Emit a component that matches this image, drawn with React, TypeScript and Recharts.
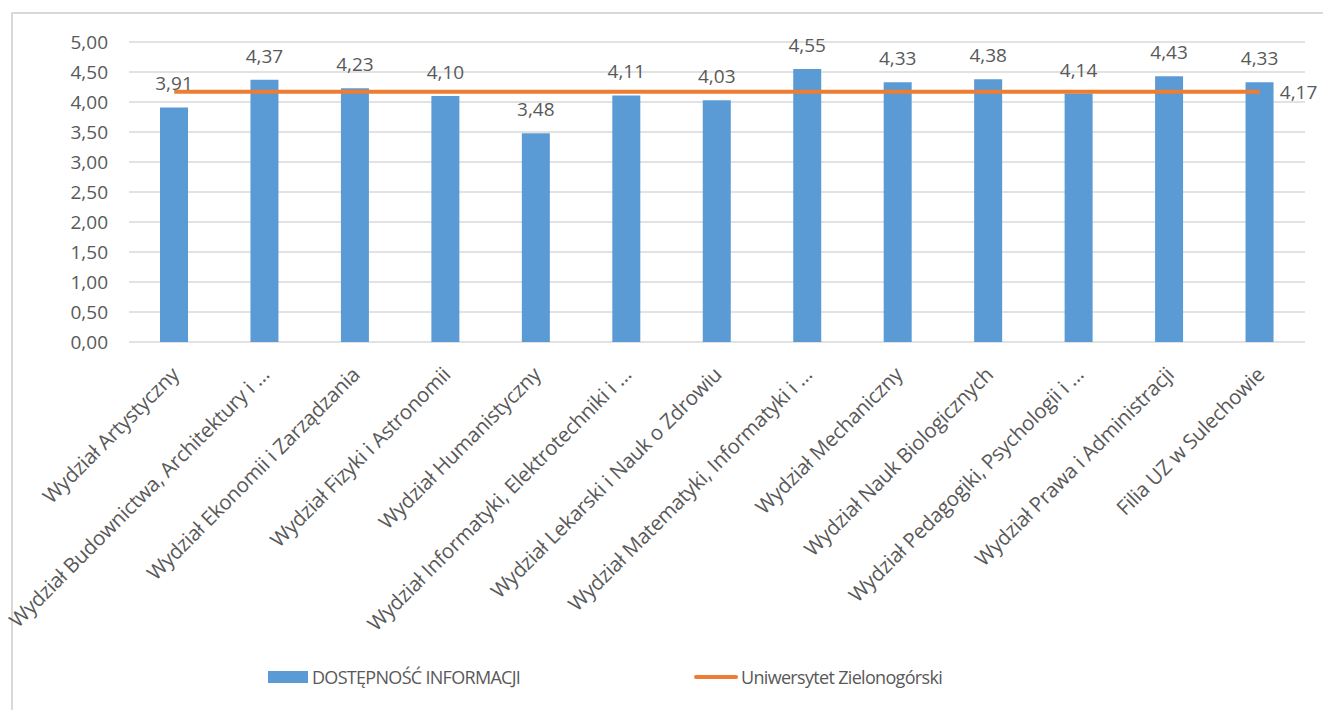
import React from 'react';
import { ComposedChart, Bar, Line, XAxis, YAxis, CartesianGrid, Legend, LabelList } from 'recharts';

const categories = [
  'Wydział Artystyczny',
  'Wydział Budownictwa, Architektury i …',
  'Wydział Ekonomii i Zarządzania',
  'Wydział Fizyki i Astronomii',
  'Wydział Humanistyczny',
  'Wydział Informatyki, Elektrotechniki i …',
  'Wydział Lekarski i Nauk o Zdrowiu',
  'Wydział Matematyki, Informatyki i …',
  'Wydział Mechaniczny',
  'Wydział Nauk Biologicznych',
  'Wydział Pedagogiki, Psychologii i …',
  'Wydział Prawa i Administracji',
  'Filia UZ w Sulechowie',
];

const facultyValues = [3.91, 4.37, 4.23, 4.10, 3.48, 4.11, 4.03, 4.55, 4.33, 4.38, 4.14, 4.43, 4.33];
const universityValues = [4.17, 4.17, 4.17, 4.17, 4.17, 4.17, 4.17, 4.17, 4.17, 4.17, 4.17, 4.17, 4.17];
const yTicks = [0, 0.5, 1, 1.5, 2, 2.5, 3, 3.5, 4, 4.5, 5];

const barName = 'DOSTĘPNOŚĆ INFORMACJI';
const lineName = 'Uniwersytet Zielonogórski';

const data = categories.map((name, i) => ({ name, value: facultyValues[i], avg: universityValues[i] }));

const FONT = '"Open Sans", sans-serif';
const TEXT = '#595959';
const BLUE = '#5B9BD5';
const ORANGE = '#ED7D31';

const fmt = (v: number) => v.toFixed(2).replace('.', ',');

const XTick = (props: any) => {
  const { x, y, payload } = props;
  return (
    <g transform={`translate(${x + 6},${y + 28})`}>
      <text x={0} y={0} textAnchor="end" transform="rotate(-45)" fill={TEXT} fontSize={20.5} letterSpacing={-0.25} fontFamily={FONT}>
        {payload.value}
      </text>
    </g>
  );
};

const BarLabel = (props: any) => {
  const { x, y, width, value } = props;
  return (
    <text x={x + width / 2} y={y - 17} textAnchor="middle" fill={TEXT} fontSize={19} fontFamily={FONT}>
      {fmt(Number(value))}
    </text>
  );
};

const LineLabel = (props: any) => {
  const { x, y, index, value } = props;
  if (index !== categories.length - 1) return <g />;
  return (
    <text x={x + 20} y={y + 7} textAnchor="start" fill={TEXT} fontSize={19} fontFamily={FONT}>
      {fmt(Number(value))}
    </text>
  );
};

const LegendContent = () => (
  <div style={{ position: 'relative', height: 58, width: 1305, fontFamily: FONT, fontSize: 18, color: TEXT }}>
    <div style={{ position: 'absolute', left: 268, top: 19, width: 40, height: 12, background: BLUE }} />
    <div style={{ position: 'absolute', left: 312, top: 13, lineHeight: '24px', whiteSpace: 'nowrap', letterSpacing: '-0.7px' }}>{barName}</div>
    <div style={{ position: 'absolute', left: 694, top: 23, width: 44, height: 4, borderRadius: 2, background: ORANGE }} />
    <div style={{ position: 'absolute', left: 741, top: 13, lineHeight: '24px', whiteSpace: 'nowrap', letterSpacing: '-0.68px' }}>{lineName}</div>
  </div>
);

export default function App() {
  return (
    <div style={{ position: 'absolute', left: 0, top: 0, width: 1323, height: 710, overflow: 'hidden', background: '#fff' }}>
      <div style={{ position: 'absolute', left: 11, top: 12, width: 1400, height: 800, border: '2px solid #D9D9D9' }} />
      <div style={{ position: 'absolute', left: 0, top: 0 }}>
        <ComposedChart width={1323} height={710} data={data} margin={{ top: 42, right: 18, left: 0, bottom: 0 }}>
          <CartesianGrid vertical={false} stroke="#D9D9D9" strokeWidth={1.5} />
          <XAxis
            dataKey="name"
            interval={0}
            height={310}
            tickLine={false}
            axisLine={false}
            tickMargin={0}
            tick={<XTick />}
          />
          <YAxis
            width={129}
            domain={[0, 5]}
            ticks={yTicks}
            tickFormatter={fmt}
            tickLine={false}
            axisLine={false}
            tickMargin={15}
            tick={{ fill: TEXT, fontSize: 19, fontFamily: FONT }}
          />
          <Legend verticalAlign="bottom" height={58} content={<LegendContent />} />
          <Bar dataKey="value" name={barName} fill={BLUE} barSize={28} isAnimationActive={false}>
            <LabelList dataKey="value" content={<BarLabel />} />
          </Bar>
          <Line
            dataKey="avg"
            name={lineName}
            stroke={ORANGE}
            strokeWidth={4}
            dot={false}
            activeDot={false}
            isAnimationActive={false}
            label={<LineLabel />}
          />
        </ComposedChart>
      </div>
    </div>
  );
}
